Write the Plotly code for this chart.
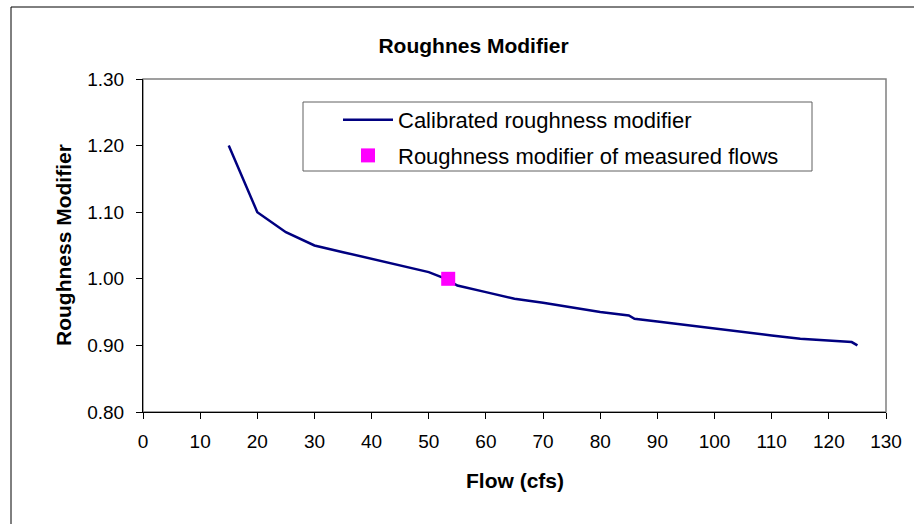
import plotly.graph_objects as go

# Calibrated roughness modifier curve
flow = [15, 20, 25, 30, 35, 40, 45, 50, 53, 55, 60, 65, 70, 75, 80, 85, 86, 90, 100, 110, 115, 124, 125]
modifier = [1.20, 1.10, 1.07, 1.05, 1.04, 1.03, 1.02, 1.01, 1.00, 0.99, 0.98, 0.97, 0.964, 0.957, 0.95, 0.945, 0.94, 0.936, 0.925, 0.915, 0.91, 0.905, 0.90]

# Measured flow point
meas_flow = [53.4]
meas_modifier = [1.00]

FONT = "Arial, Liberation Sans, sans-serif"

W, H = 914, 524
L, R, T, B = 143, 886, 79, 412  # plot area in pixels


def px(xp):
    return (xp - L) / (R - L)


def py(yp):
    return (B - yp) / (B - T)


fig = go.Figure()
fig.add_trace(go.Scatter(
    x=flow, y=modifier, mode="lines", name="Calibrated roughness modifier",
    line=dict(color="#000080", width=2.5), legendgroup="a"))
fig.add_trace(go.Scatter(
    x=meas_flow, y=meas_modifier, mode="markers",
    name="Roughness modifier of measured flows",
    marker=dict(symbol="square", size=14, color="#FF00FF"), legendgroup="b"))

shapes = [
    # outer chart border (extends past the image right/bottom)
    dict(type="rect", xref="paper", yref="paper", x0=px(11), x1=px(940), y0=py(540), y1=py(7),
         line=dict(color="black", width=1), fillcolor="rgba(0,0,0,0)", layer="below"),
    # plot area border
    dict(type="rect", xref="paper", yref="paper", x0=0, x1=1, y0=0, y1=1,
         line=dict(color="#808080", width=1.5), fillcolor="rgba(0,0,0,0)", layer="below"),
    # legend box
    dict(type="rect", xref="paper", yref="paper", x0=px(303), x1=px(812), y0=py(171), y1=py(102),
         line=dict(color="#606060", width=1), fillcolor="white", layer="below"),
]

fig.update_layout(
    width=W, height=H,
    margin=dict(l=L, r=W - R, t=T, b=H - B),
    paper_bgcolor="white", plot_bgcolor="white",
    font=dict(family=FONT, size=19, color="black"),
    title=dict(text="<b>Roughnes Modifier</b>", x=px(473.5), xref="paper", xanchor="center",
               y=1 - 46 / H, yref="container", yanchor="middle",
               font=dict(family=FONT, size=21, color="black")),
    showlegend=True,
    legend=dict(x=px(338), y=py(99), xanchor="left", yanchor="top",
                bgcolor="rgba(0,0,0,0)", borderwidth=0, itemwidth=50,
                tracegroupgap=4, font=dict(family=FONT, size=22, color="black")),
    shapes=shapes,
    annotations=[
        dict(text="<b>Flow (cfs)</b>", xref="paper", yref="paper", x=px(515), y=py(480),
             xanchor="center", yanchor="middle", showarrow=False,
             font=dict(family=FONT, size=21, color="black")),
        dict(text="<b>Roughness Modifier</b>", xref="paper", yref="paper", x=px(63), y=py(245),
             xanchor="center", yanchor="middle", showarrow=False, textangle=-90,
             font=dict(family=FONT, size=21, color="black")),
    ],
)

fig.update_xaxes(range=[0, 130], dtick=10, tick0=0, showgrid=False, zeroline=False,
                 showline=True, linecolor="black", linewidth=1,
                 ticks="outside", ticklen=6, tickcolor="black", ticklabelstandoff=6,
                 tickfont=dict(family=FONT, size=19, color="black"))
fig.update_yaxes(range=[0.8, 1.3], dtick=0.1, tick0=0.8, tickformat=".2f", showgrid=False,
                 zeroline=False, showline=True, linecolor="black", linewidth=1,
                 ticks="outside", ticklen=6, tickcolor="black", ticklabelstandoff=8,
                 tickfont=dict(family=FONT, size=19, color="black"))

fig.write_html("out.html", config={"displayModeBar": False},
               post_script="document.body.style.margin='0px';document.body.style.overflow='hidden';")
